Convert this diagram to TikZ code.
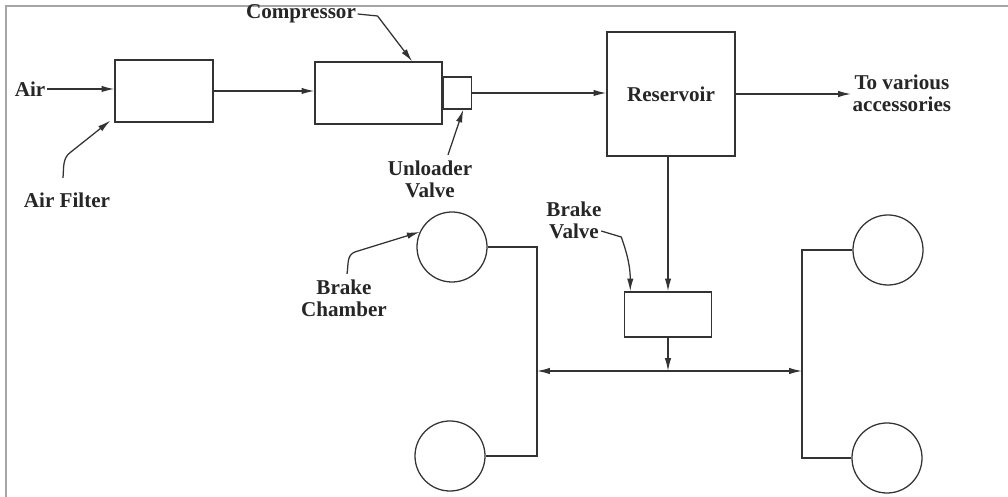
\documentclass[tikz,border=0pt]{standalone}
\usepackage{fontspec}
\setmainfont{Liberation Serif}
\usetikzlibrary{arrows.meta}

\begin{document}
\begin{tikzpicture}[x=0.025cm, y=-0.025cm,
    linea/.style={draw=black!80, line width=0.9pt},
    freccia/.style={linea, -{Latex[length=3.2mm, width=1.6mm]}},
    blocco/.style={linea, rectangle, inner sep=0pt},
    camera/.style={linea, circle, minimum size=1.75cm, inner sep=0pt},
    etichetta/.style={font=\bfseries\fontsize{15}{15.6}\selectfont, align=center, text=black!85, inner sep=1pt}]
    \useasboundingbox (0,0) rectangle (1008,497);

    % Cornice
    \draw[gray!70, line width=0.8pt] (6,497) -- (6,6) -- (1008,6);

    % Linea di alimentazione
    \node[blocco, minimum width=2.45cm, minimum height=1.55cm] (filtro) at (164,91) {};
    \node[blocco, minimum width=3.175cm, minimum height=1.55cm] (compressore) at (378.5,93) {};
    \node[blocco, minimum width=0.7cm, minimum height=0.8cm, anchor=west] (scarico) at (compressore.east) {};
    \node[blocco, minimum width=3.2cm, minimum height=3.1cm, etichetta] (serbatoio) at (671,94) {Reservoir};
    \node[blocco, minimum width=2.175cm, minimum height=1.125cm] (freno) at (668,314.5) {};

    \node[etichetta, anchor=east] (aria) at (47,89) {Air};
    \node[etichetta, anchor=west] (accessori) at (851,93) {To various\\accessories};

    \draw[freccia] (aria.east) -- (aria.east -| filtro.west);
    \draw[freccia] (filtro.east) -- (filtro.east -| compressore.west);
    \draw[freccia] (scarico.east) -- (scarico.east -| serbatoio.west);
    \draw[freccia] (serbatoio.east) -- (serbatoio.east -| accessori.west);
    \draw[freccia] (serbatoio.south -| freno.north) -- (freno.north);

    % Camere freno
    \node[camera] (c1) at (452,247) {};
    \node[camera] (c2) at (450,456) {};
    \node[camera] (c3) at (888,250) {};
    \node[camera] (c4) at (887,458) {};

    \coordinate (nodo) at (668,371);
    \coordinate (sx) at (537,371);
    \coordinate (dx) at (802,371);

    \draw[freccia] (freno) -- (nodo);
    \draw[freccia] (nodo) -- (sx);
    \draw[freccia] (nodo) -- (dx);
    \draw[linea] (c1) -- (c1 -| sx) -- (c2 -| sx) -- (c2);
    \draw[linea] (c3) -- (c3 -| dx) -- (c4 -| dx) -- (c4);

    % Etichette con richiamo
    \node[etichetta] (lblfiltro) at (67,200) {Air Filter};
    \node[etichetta] (lblcomp) at (301,14) {Compressor};
    \node[etichetta] (lblscarico) at (430,179) {Unloader\\Valve};
    \node[etichetta] (lblcamera) at (344,298) {Brake\\Chamber};
    \node[etichetta] (lblfreno) at (574,220) {Brake\\Valve};

    \draw[freccia] ([shift={(-4,-13)}]lblfiltro.north) to[out=85,in=215] ++(8,-26) -- ([xshift=-1mm, yshift=0.5mm]filtro.south west);
    \draw[freccia] (lblcomp.east) -- ++(20,2) -- ([xshift=0.84cm]compressore.north);
    \draw[freccia] ([shift={(18,-4)}]lblscarico.north) -- ([xshift=0.15cm]scarico.south);
    \draw[freccia] ([shift={(3,-4)}]lblcamera.north) to[out=80,in=200] ++(8,-22) -- (c1.155);
    \draw[freccia] ([shift={(-2,11)}]lblfreno.east) -- ++(20,6) to[out=-70,in=90] ([xshift=0.16cm]freno.north west);
\end{tikzpicture}
\end{document}
